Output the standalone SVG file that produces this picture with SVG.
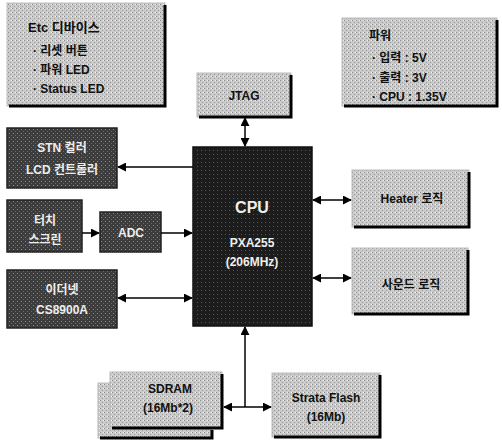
<svg xmlns="http://www.w3.org/2000/svg" width="502" height="443" viewBox="0 0 502 443">
<defs>
<pattern id="lt" width="4" height="4" patternUnits="userSpaceOnUse">
<rect width="4" height="4" fill="#cbcbcb"/>
<rect x="0" y="0" width="1" height="1" fill="#8a8a8a"/>
<rect x="2" y="2" width="1" height="1" fill="#9a9a9a"/>
<rect x="3" y="0" width="1" height="1" fill="#f2f2f2"/>
</pattern>
<pattern id="dk" width="4" height="4" patternUnits="userSpaceOnUse">
<rect width="4" height="4" fill="#3c3c3c"/>
<rect x="1" y="1" width="1" height="1" fill="#8a8a8a"/>
<rect x="3" y="3" width="1" height="1" fill="#6a6a6a"/>
</pattern>
<pattern id="cp" width="4" height="4" patternUnits="userSpaceOnUse">
<rect width="4" height="4" fill="#1c1c1c"/>
<rect x="1" y="2" width="1" height="1" fill="#555"/>
</pattern>
<marker id="ah" viewBox="0 0 10 10" refX="9" refY="5" markerWidth="9" markerHeight="9" markerUnits="userSpaceOnUse" orient="auto-start-reverse">
<path d="M0,0 L10,5 L0,10 Z" fill="#000"/>
</marker>
</defs>
<style>
.light{fill:url(#lt);stroke:#bbb;stroke-width:1}
.dark{fill:url(#dk);stroke:#222;stroke-width:1.5}
.sh{fill:none;stroke:#000;stroke-width:3}
.t{font-family:"Liberation Sans","Noto Sans CJK KR",sans-serif;font-size:12px;font-weight:bold;fill:#111}
.w{font-family:"Liberation Sans","Noto Sans CJK KR",sans-serif;font-size:12px;font-weight:bold;fill:#eee;text-anchor:middle}
.c{text-anchor:middle}
.ln{fill:none;stroke:#000;stroke-width:1.5}
</style>
<rect width="502" height="443" fill="#fff"/>

<g id="etc">
<rect class="light" x="7" y="3" width="158" height="103"/>
<polyline class="sh" points="165,5 165,106 9,106"/>
<text class="t" x="28" y="32" style="font-size:13px">Etc 디바이스</text>
<text class="t" x="33" y="55">· 리셋 버튼</text>
<text class="t" x="33" y="74">· 파워 LED</text>
<text class="t" x="33" y="93">· Status LED</text>
</g>

<g id="power">
<rect class="light" x="342" y="18" width="155" height="88"/>
<polyline class="sh" points="497,20 497,106 344,106"/>
<text class="t" x="369" y="40">파워</text>
<text class="t" x="372" y="62">· 입력 : 5V</text>
<text class="t" x="372" y="82">· 출력 : 3V</text>
<text class="t" x="372" y="101">· CPU : 1.35V</text>
</g>

<g id="jtag">
<rect class="light" x="197" y="73" width="94" height="44"/>
<polyline class="sh" points="291,75 291,117 199,117"/>
<text class="t c" x="244" y="100">JTAG</text>
</g>

<g id="cpu">
<rect x="193" y="147" width="119" height="179" fill="url(#cp)" stroke="#111" stroke-width="1.5"/>
<text class="w" x="252" y="213" style="font-size:16px">CPU</text>
<text class="w" x="252" y="247">PXA255</text>
<text class="w" x="252" y="266">(206MHz)</text>
</g>

<g id="stn">
<rect class="dark" x="7" y="128" width="110" height="60"/>
<text class="w" x="62" y="152">STN 컬러</text>
<text class="w" x="62" y="174">LCD 컨트롤러</text>
</g>

<g id="touch">
<rect class="dark" x="7" y="200" width="75" height="52"/>
<text class="w" x="45" y="225">터치</text>
<text class="w" x="45" y="244">스크린</text>
</g>

<g id="adc">
<rect class="dark" x="100" y="212" width="61" height="40"/>
<text class="w" x="131" y="237">ADC</text>
</g>

<g id="ethernet">
<rect class="dark" x="7" y="270" width="110" height="58"/>
<text class="w" x="62" y="294">이더넷</text>
<text class="w" x="62" y="314">CS8900A</text>
</g>

<g id="heater">
<rect class="light" x="352" y="170" width="117" height="57"/>
<polyline class="sh" points="469,172 469,227 354,227"/>
<text class="t c" x="412" y="203">Heater 로직</text>
</g>

<g id="sound">
<rect class="light" x="352" y="248" width="116" height="66"/>
<polyline class="sh" points="468,250 468,314 354,314"/>
<text class="t c" x="411" y="289">사운드 로직</text>
</g>

<g id="sdram">
<rect class="light" x="98" y="383" width="114" height="55"/>
<polyline class="sh" points="212,430 212,438 100,438"/>
<rect class="light" x="110" y="372" width="112" height="56"/>
<polyline class="sh" points="222,374 222,428 112,428"/>
<text class="t c" x="170" y="393">SDRAM</text>
<text class="t c" x="168" y="412">(16Mb*2)</text>
</g>

<g id="flash">
<rect class="light" x="272" y="373" width="108" height="64"/>
<polyline class="sh" points="380,375 380,437 274,437"/>
<text class="t c" x="326" y="402">Strata Flash</text>
<text class="t c" x="326" y="421">(16Mb)</text>
</g>

<g id="connectors">
<line class="ln" x1="245" y1="118" x2="245" y2="146" marker-start="url(#ah)" marker-end="url(#ah)"/>
<line class="ln" x1="193" y1="167" x2="118" y2="167" marker-end="url(#ah)"/>
<line class="ln" x1="82" y1="233" x2="99" y2="233" marker-end="url(#ah)"/>
<line class="ln" x1="161" y1="233" x2="192" y2="233" marker-end="url(#ah)"/>
<line class="ln" x1="118" y1="298" x2="192" y2="298" marker-start="url(#ah)" marker-end="url(#ah)"/>
<line class="ln" x1="313" y1="200" x2="351" y2="200" marker-start="url(#ah)" marker-end="url(#ah)"/>
<line class="ln" x1="313" y1="278" x2="351" y2="278" marker-start="url(#ah)" marker-end="url(#ah)"/>
<line class="ln" x1="245" y1="407" x2="245" y2="327" marker-end="url(#ah)"/>
<line class="ln" x1="224" y1="407" x2="271" y2="407" marker-start="url(#ah)" marker-end="url(#ah)"/>
</g>
</svg>
